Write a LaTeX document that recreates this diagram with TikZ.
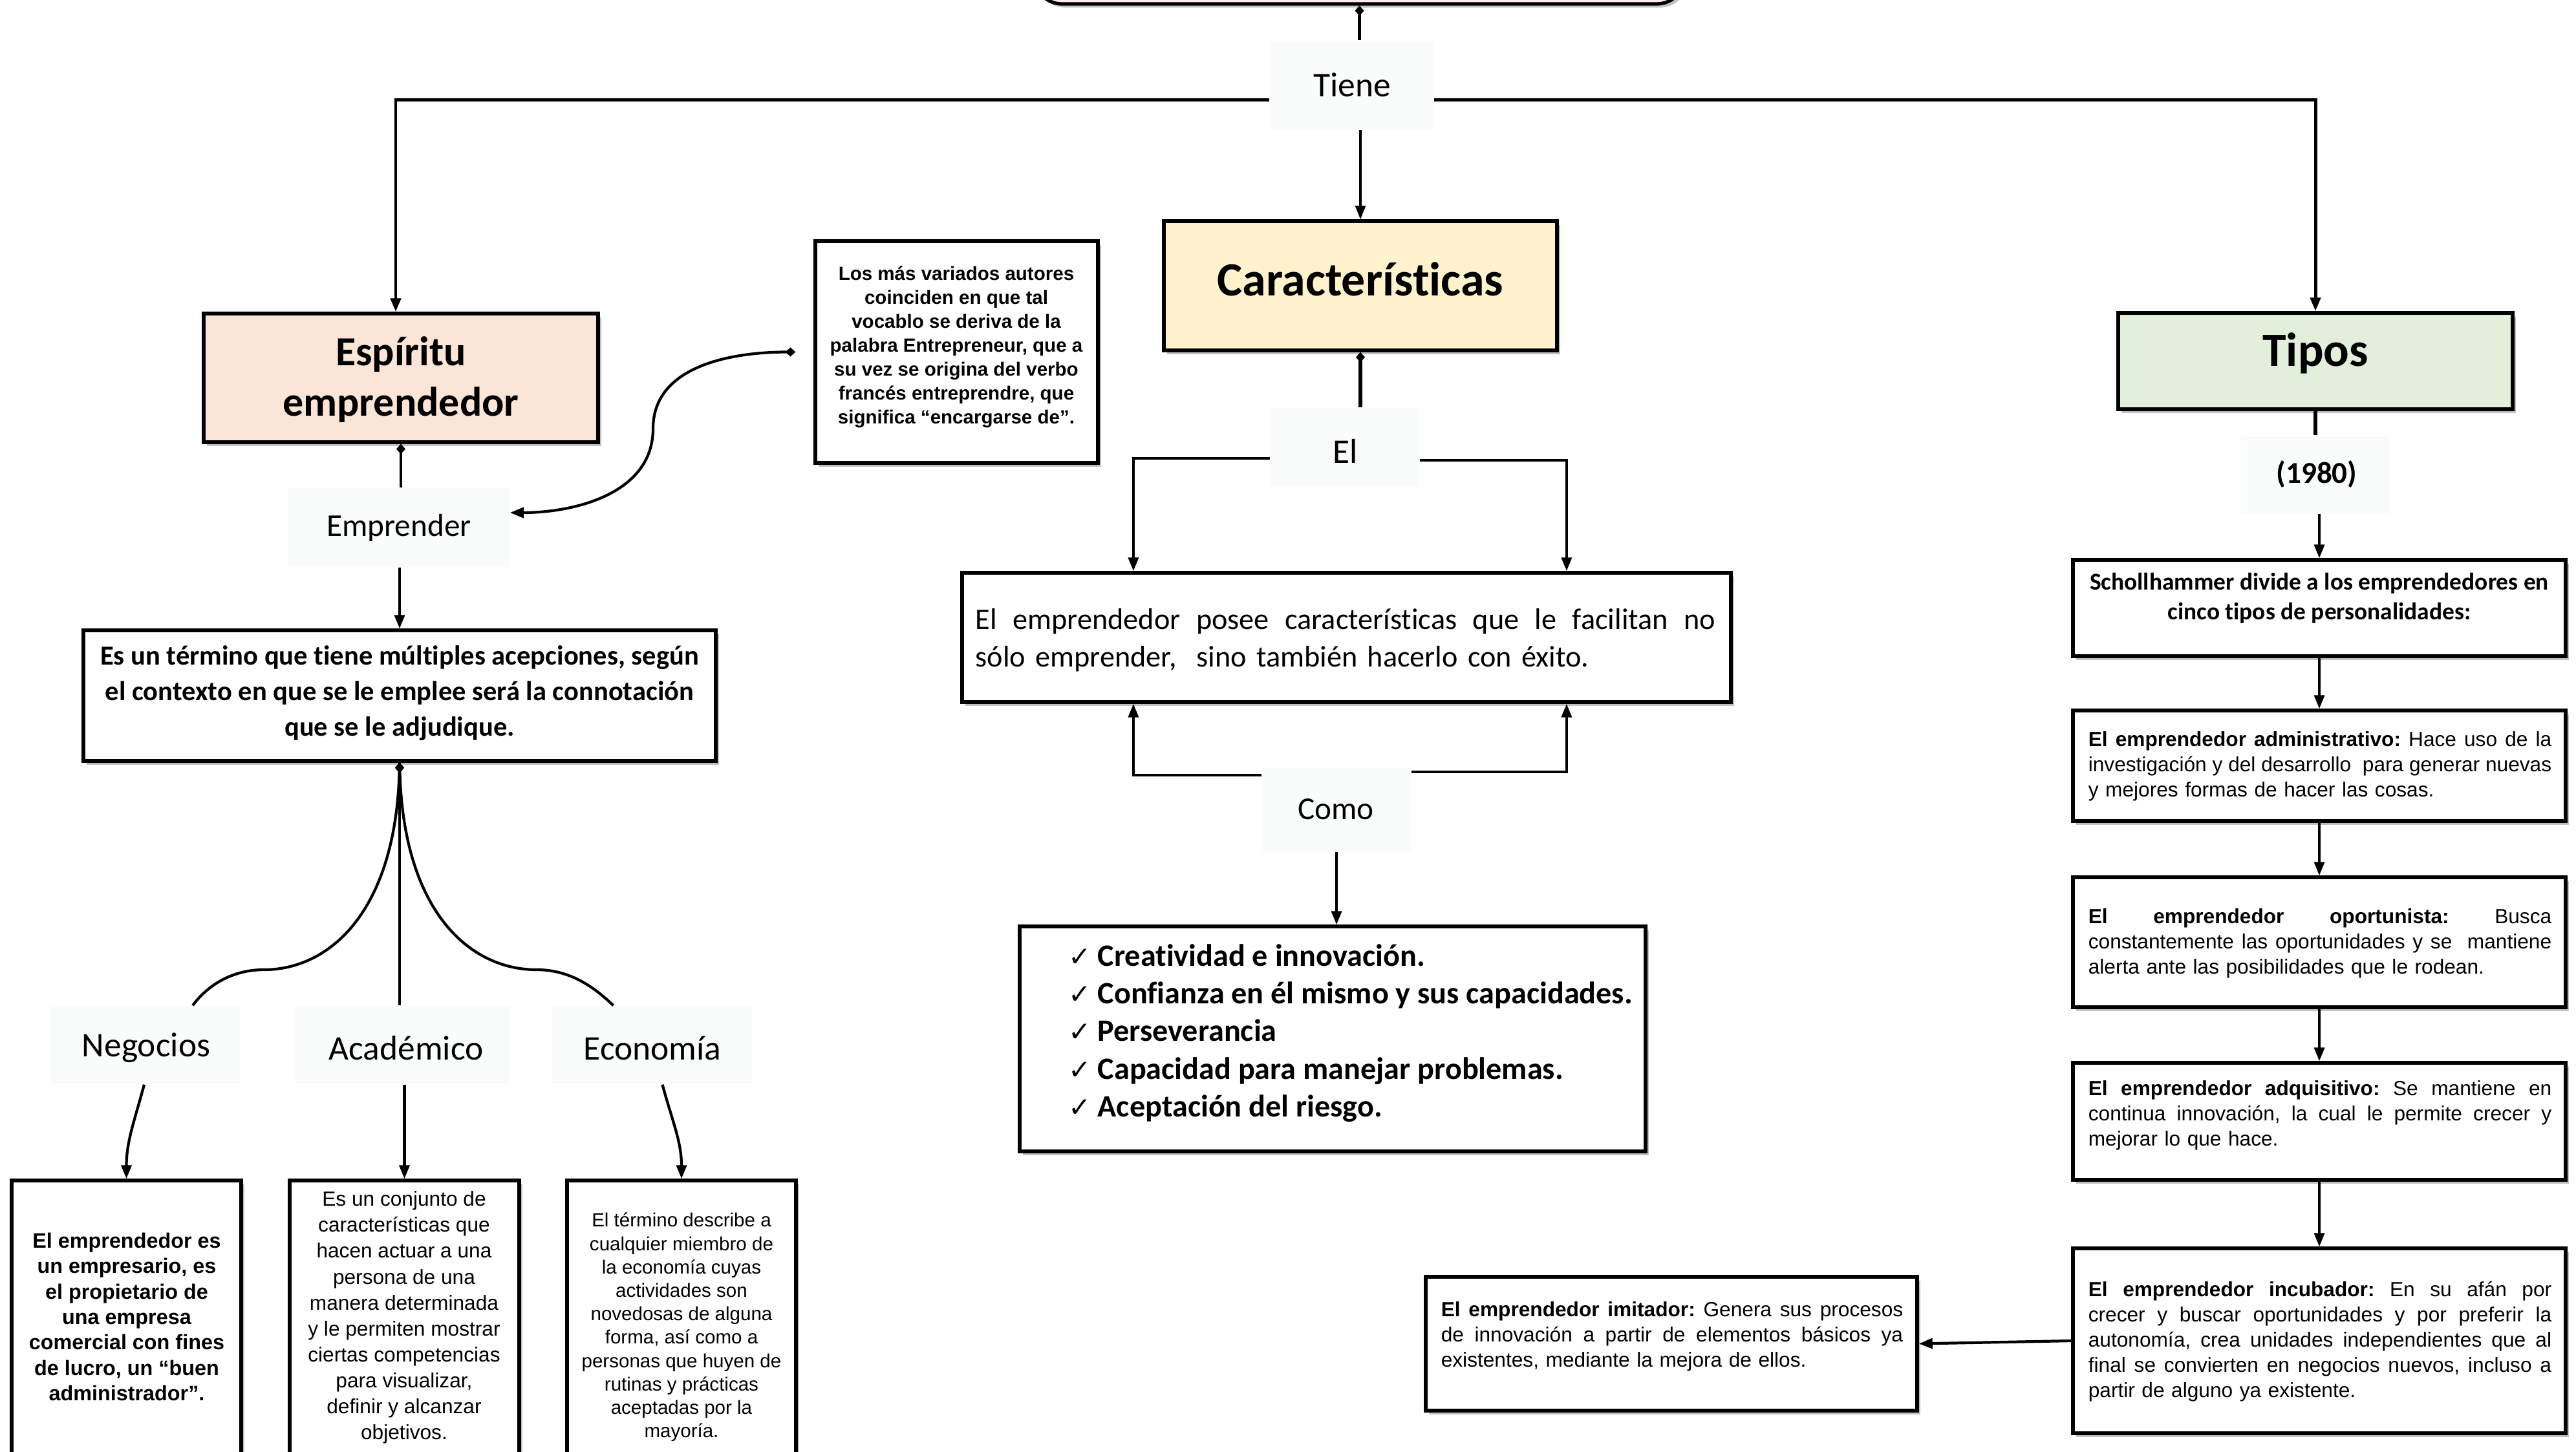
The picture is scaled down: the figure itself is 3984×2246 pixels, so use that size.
\documentclass[tikz,border=0pt]{standalone}
\usepackage{fontspec}
\setmainfont{Carlito}[Ligatures=NoCommon]
\newfontfamily\arialf{Liberation Sans}
\newfontfamily\symf{DejaVu Sans}
\usetikzlibrary{arrows.meta,shadows,fit,calc}
\definecolor{pinkbox}{HTML}{FDE9F4}
\definecolor{peach}{HTML}{FBE5D6}
\definecolor{goldbox}{HTML}{FFF2CC}
\definecolor{greenbox}{HTML}{E2EFDA}
\definecolor{lblfill}{HTML}{FAFCFC}
\newcommand{\fs}[2]{\fontsize{#1}{#2}\selectfont}
\newcommand{\jl}[2]{\leavevmode\hbox to #1{\spaceskip=\fontdimen2\font plus 1fil minus 0.12em\relax#2}}
\newcommand{\chk}{\makebox[12.8pt][l]{\symf\mdseries\fs{12}{14}✓}}
\begin{document}
\frenchspacing
\begin{tikzpicture}[x=0.01cm,y=-0.01cm,
  box/.style={draw=black, line width=1.5pt, fill=white, inner sep=0pt,
    drop shadow={shadow xshift=1.3pt, shadow yshift=-1.6pt, opacity=0.35, fill=black!70}},
  lbl/.style={fill=lblfill, inner sep=0pt},
  lbltext/.style={font=\fs{14}{17}},
  lblbig/.style={font=\fs{15.2}{18}},
  conn/.style={line width=1.2pt},
  arr/.style={conn, -{Triangle[length=6pt,width=4.5pt]}},
  dconn/.style={conn, {Diamond[length=4.5pt,width=4pt]}-},
  darr/.style={conn, {Diamond[length=4.5pt,width=4pt]}-{Triangle[length=6pt,width=4.5pt]}},
  rtext/.style={font=\arialf\fs{9}{11.1}, text width=7.16cm, align=left, inner sep=0pt},
]
\useasboundingbox (0,0) rectangle (3984,2246);
\clip (0,0) rectangle (3984,2246);
\fill[white] (0,0) rectangle (3984,2246);

% ---------- boxes ----------
\node[box, rounded corners=12pt, fill=pinkbox, fit={(1600,-150) (2605,6)}] (top) {};
\node[box, fill=peach, fit={(315,485) (925,684)}] (esp) {};
\node[box, fit={(1261,373) (1698,716)}] (los) {};
\node[box, fill=goldbox, fit={(1800,342) (2408,542)}] (car) {};
\node[box, fill=greenbox, fit={(3276,484) (3886,633)}] (tipos) {};
\node[box, fit={(1488,886) (2677,1086)}] (emp) {};
\node[box, fit={(1577,1433) (2545,1781)}] (chk) {};
\node[box, fit={(3206,866) (3968,1015)}] (schol) {};
\node[box, fit={(3206,1099) (3968,1270)}] (adm) {};
\node[box, fit={(3206,1357) (3968,1558)}] (opo) {};
\node[box, fit={(3206,1644) (3968,1825)}] (adq) {};
\node[box, fit={(3206,1931) (3968,2217)}] (inc) {};
\node[box, fit={(2205,1975) (2965,2182)}] (imi) {};
\node[box, fit={(129,975) (1107,1177)}] (term) {};
\node[box, fit={(18,1826) (373,2320)}] (nbox) {};
\node[box, fit={(448,1826) (803,2320)}] (abox) {};
\node[box, fit={(877,1826) (1231,2320)}] (ebox) {};

% ---------- labels ----------
\node[lbl, fit={(1964,63) (2217,200)}] (tiene) {};
\node[lbl, fit={(1965,631) (2195,753)}] (el) {};
\node[lbl, fit={(1952,1187) (2182,1317)}] (como) {};
\node[lbl, fit={(445,755) (788,877)}] (empr) {};
\node[lbl, fit={(3465,674) (3695,794)}] (yr) {};
\node[lbl, fit={(79,1556) (371,1677)}] (neg) {};
\node[lbl, fit={(456,1556) (788,1677)}] (acad) {};
\node[lbl, fit={(854,1556) (1163,1677)}] (econ) {};

\node[lblbig] (tieneT) at (2091,131) {Tiene};
\node[lblbig] (elT) at (2081,698) {El};
\node[lbltext] (comoT) at (2066,1252) {Como};
\node[lbltext] (emprT) at (617,816) {Emprender};
\node[font=\bfseries\fs{13.4}{16}] (yrT) at (3583,734) {(1980)};
\node[lblbig] (negT) at (226,1621) {Negocios};
\node[lblbig] (acadT) at (628,1621) {Académico};
\node[lblbig] (econT) at (1009,1621) {Economía};

% ---------- box texts ----------
\node[font=\bfseries\fs{18.2}{22}, align=center] (espT) at (620,587) {Espíritu\\emprendedor};
\node[font=\bfseries\fs{21}{25}] (carT) at (2104,432) {Características};
\node[font=\bfseries\fs{21}{25}] (tipT) at (3581,546) {Tipos};
\node[font=\arialf\bfseries\fs{8.4}{10.5}, align=center] (losT) at (1479,537)
  {Los más variados autores\\coinciden en que tal\\vocablo se deriva de la\\palabra Entrepreneur, que a\\su vez se origina del verbo\\francés entreprendre, que\\significa “encargarse de”.};
\node[font=\bfseries\fs{12.1}{15.6}, align=center] (termT) at (618,1072)
  {Es un término que tiene múltiples acepciones, según\\el contexto en que se le emplee será la connotación\\que se le adjudique.};
\node[font=\fs{13.15}{16.5}, text width=11.44cm, align=left, inner sep=0pt] (empT) at (2081,990)
  {\jl{11.44cm}{El emprendedor posee características que le facilitan no}\\sólo emprender,\ \ sino también hacerlo con éxito.};
\node[font=\bfseries\fs{13.7}{16.6}, align=left, anchor=west, inner sep=0pt] (chkT) at (1652,1598)
  {\chk Creatividad e innovación.\\\chk Confianza en él mismo y sus capacidades.\\\chk Perseverancia\\\chk Capacidad para manejar problemas.\\\chk Aceptación del riesgo.};
\node[font=\bfseries\fs{10.65}{13}, align=center] (scholT) at (3587,925)
  {Schollhammer divide a los emprendedores en\\cinco tipos de personalidades:};
\node[rtext] (admT) at (3588,1185)
  {\jl{7.16cm}{\textbf{El emprendedor administrativo:} Hace uso de la}\\\jl{7.16cm}{investigación y del desarrollo\ \ para generar nuevas}\\y mejores formas de hacer las cosas.};
\node[rtext] (opoT) at (3588,1459)
  {\jl{7.16cm}{\textbf{El emprendedor oportunista:} Busca}\\\jl{7.16cm}{constantemente las oportunidades y se\ \ mantiene}\\alerta ante las posibilidades que le rodean.};
\node[rtext] (adqT) at (3588,1725)
  {\jl{7.16cm}{\textbf{El emprendedor adquisitivo:} Se mantiene en}\\\jl{7.16cm}{continua innovación, la cual le permite crecer y}\\mejorar lo que hace.};
\node[rtext] (incT) at (3588,2075)
  {\jl{7.16cm}{\textbf{El emprendedor incubador:} En su afán por}\\\jl{7.16cm}{crecer y buscar oportunidades y por preferir la}\\\jl{7.16cm}{autonomía, crea unidades independientes que al}\\\jl{7.16cm}{final se convierten en negocios nuevos, incluso a}\\partir de alguno ya existente.};
\node[rtext, text width=7.14cm] (imiT) at (2586,2067)
  {\jl{7.14cm}{\textbf{El emprendedor imitador:} Genera sus procesos}\\\jl{7.14cm}{de innovación a partir de elementos básicos ya}\\existentes, mediante la mejora de ellos.};
\node[font=\arialf\bfseries\fs{9.2}{11.2}, align=center] (nT) at (196,2037)
  {El emprendedor es\\un empresario, es\\el propietario de\\una empresa\\comercial con fines\\de lucro, un “buen\\administrador”.};
\node[font=\arialf\fs{9}{11.4}, align=center] (aT) at (625,2038)
  {Es un conjunto de\\características que\\hacen actuar a una\\persona de una\\manera determinada\\y le permiten mostrar\\ciertas competencias\\para visualizar,\\definir y alcanzar\\objetivos.};
\node[font=\arialf\fs{8.4}{10.3}, align=center] (eT) at (1054,2053)
  {El término describe a\\cualquier miembro de\\la economía cuyas\\actividades son\\novedosas de alguna\\forma, así como a\\personas que huyen de\\rutinas y prácticas\\aceptadas por la\\mayoría.};

% ---------- connectors ----------
\draw[dconn] (top.south) -- (top.south |- tiene.north);
\draw[arr, line width=1.4pt] ($(tiene.west)+(0,23)$) -| ($(esp.north)+(-8,0)$);
\draw[arr, line width=1.4pt] ($(tiene.east)+(0,23)$) -| (tipos.north);
\draw[arr, line width=0.9pt] (car.north |- tiene.south) -- (car.north);
\draw[dconn] (esp.south) -- (esp.south |- empr.north);
\draw[arr] (term.north |- empr.south) -- (term.north);
\coordinate (bend) at (1010,663);
\draw[darr] ($(los.west)+(-28,0)$) to[out=180,in=90] (bend) to[out=-90,in=0] ($(empr.east)+(0,-23)$);

\draw[dconn] (term.south) .. controls ($(term.south)+(-6,230)$) and (510,1500) .. (408,1500)
  .. controls (355,1500) and (318,1528) .. ($(neg.north)+(73,0)$);
\draw[dconn] (term.south) .. controls ($(term.south)+(6,230)$) and (726,1500) .. (830,1500)
  .. controls (883,1500) and (920,1528) .. ($(econ.north)+(-60,0)$);
\draw[conn] (term.south) -- (term.south |- acad.north);
\draw[arr] ($(neg.south)+(-2,0)$) to[out=-105,in=90] (nbox.north);
\draw[arr] (abox.north |- acad.south) -- (abox.north);
\draw[arr] ($(econ.south)+(16,0)$) to[out=-75,in=90] (ebox.north);

\draw[dconn, line width=1.5pt] (car.south) -- (car.south |- el.north);
\coordinate (eL) at ($(emp.north west)!0.224!(emp.north east)$);
\coordinate (eR) at ($(emp.north west)!0.785!(emp.north east)$);
\coordinate (cL) at ($(emp.south west)!0.224!(emp.south east)$);
\coordinate (cR) at ($(emp.south west)!0.785!(emp.south east)$);
\draw[arr] ($(el.west)+(0,17)$) -| (eL);
\draw[arr] ($(el.east)+(0,20)$) -| (eR);
\draw[arr] ($(como.west)+(0,-53)$) -| (cL);
\draw[arr] ($(como.east)+(0,-58)$) -| (cR);
\draw[arr] (como.south) -- (como.south |- chk.north);

\draw[conn, line width=1.5pt] (tipos.south) -- (tipos.south |- yr.north);
\draw[arr] (schol.north |- yr.south) -- (schol.north);
\draw[arr] (schol.south) -- (adm.north);
\draw[arr] (adm.south) -- (opo.north);
\draw[arr] (opo.south) -- (adq.north);
\draw[arr] (adq.south) -- (inc.north);
\draw[arr] (inc.west) -- (imi.east);
\end{tikzpicture}
\end{document}
